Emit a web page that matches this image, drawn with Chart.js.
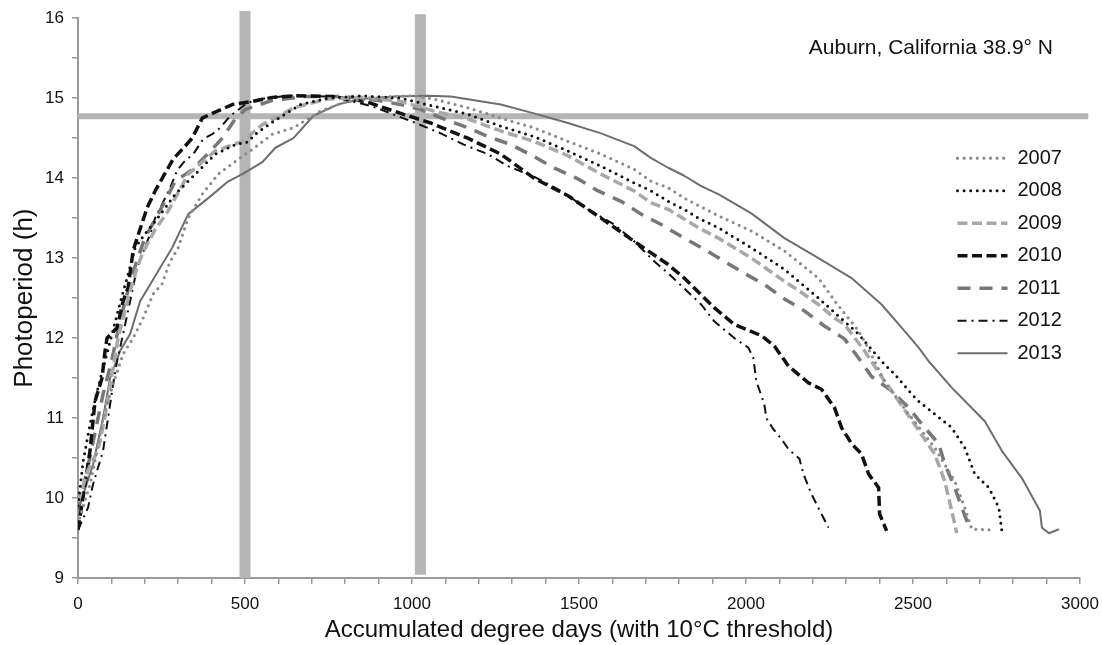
<!DOCTYPE html>
<html>
<head>
<meta charset="utf-8">
<title>Photoperiod vs accumulated degree days</title>
<script src="https://cdn.jsdelivr.net/npm/chart.js@4.4.1/dist/chart.umd.min.js"></script>
<style>
  html, body { margin: 0; padding: 0; background: #fff; }
  #wrap { width: 1102px; height: 645px; }
</style>
</head>
<body>
<div id="wrap"><canvas id="chart" width="1102" height="645"></canvas></div>
<script>
// Photoperiod (h) against accumulated degree days, Auburn CA, 2007-2013
const years = ['2007', '2008', '2009', '2010', '2011', '2012', '2013'];

const dd2007 = [5, 36, 57, 75, 105, 135, 165, 195, 225, 252, 275, 300, 330, 372, 420, 471, 522, 582, 645, 726, 807, 945, 1000, 1065, 1167, 1266, 1365, 1467, 1566, 1665, 1716, 1767, 1815, 1857, 1917, 2016, 2115, 2217, 2270, 2337, 2355, 2415, 2487, 2565, 2625, 2655, 2676, 2745];
const pp2007 = [9.75, 10.17, 10.59, 11.0, 11.42, 11.8, 12.0, 12.25, 12.55, 12.68, 12.95, 13.13, 13.5, 13.8, 14.05, 14.21, 14.36, 14.55, 14.63, 14.84, 14.96, 15.02, 15.03, 14.99, 14.88, 14.75, 14.63, 14.46, 14.3, 14.11, 13.96, 13.88, 13.75, 13.66, 13.53, 13.34, 13.09, 12.75, 12.44, 12.09, 11.96, 11.46, 11.05, 10.63, 10.21, 9.88, 9.61, 9.6];

const dd2008 = [0, 15, 35, 55, 80, 105, 130, 150, 171, 200, 231, 260, 291, 351, 411, 471, 507, 531, 585, 666, 747, 850, 966, 1065, 1167, 1266, 1365, 1467, 1566, 1665, 1716, 1767, 1815, 1857, 1917, 2016, 2115, 2217, 2316, 2337, 2415, 2445, 2496, 2517, 2616, 2655, 2685, 2727, 2757, 2766];
const pp2008 = [9.9, 10.45, 10.9, 11.3, 11.7, 12.1, 12.5, 12.8, 13.13, 13.3, 13.46, 13.62, 13.8, 14.05, 14.3, 14.42, 14.45, 14.55, 14.71, 14.92, 15.0, 15.03, 15.0, 14.9, 14.8, 14.65, 14.52, 14.34, 14.15, 13.94, 13.84, 13.71, 13.61, 13.5, 13.38, 13.13, 12.86, 12.5, 12.13, 12.05, 11.67, 11.55, 11.3, 11.21, 10.88, 10.63, 10.3, 10.13, 9.88, 9.59];

const dd2009 = [0, 30, 60, 80, 100, 120, 150, 175, 192, 230, 270, 330, 411, 492, 552, 591, 645, 747, 850, 966, 1065, 1167, 1266, 1365, 1467, 1566, 1665, 1716, 1767, 1815, 1857, 1917, 2016, 2115, 2166, 2217, 2265, 2295, 2355, 2415, 2436, 2505, 2565, 2595, 2616, 2631];
const pp2009 = [9.95, 10.35, 10.6, 11.0, 11.5, 12.0, 12.5, 12.85, 13.05, 13.35, 13.59, 14.05, 14.34, 14.46, 14.67, 14.75, 14.88, 14.99, 15.01, 14.96, 14.84, 14.74, 14.59, 14.46, 14.28, 14.05, 13.84, 13.69, 13.61, 13.49, 13.38, 13.25, 13.0, 12.71, 12.57, 12.42, 12.25, 12.17, 11.84, 11.46, 11.34, 10.92, 10.55, 10.21, 9.84, 9.56];

const dd2010 = [0, 21, 36, 51, 72, 81, 87, 117, 135, 150, 165, 177, 207, 231, 285, 312, 342, 372, 402, 462, 522, 582, 650, 760, 860, 966, 1056, 1167, 1266, 1365, 1467, 1566, 1665, 1767, 1815, 1905, 1965, 2046, 2085, 2127, 2187, 2226, 2265, 2286, 2316, 2346, 2367, 2397, 2400, 2421];
const pp2010 = [9.6, 10.17, 10.59, 11.21, 11.5, 11.84, 12.0, 12.13, 12.46, 12.63, 13.09, 13.25, 13.63, 13.84, 14.24, 14.36, 14.5, 14.75, 14.81, 14.92, 14.96, 15.01, 15.03, 15.02, 14.96, 14.81, 14.69, 14.5, 14.3, 14.0, 13.78, 13.5, 13.21, 12.92, 12.75, 12.38, 12.17, 12.03, 11.9, 11.65, 11.44, 11.36, 11.13, 10.88, 10.68, 10.55, 10.3, 10.13, 9.8, 9.59];

const dd2011 = [0, 25, 50, 75, 100, 125, 150, 175, 200, 240, 291, 340, 390, 432, 471, 501, 580, 680, 800, 900, 966, 1026, 1095, 1167, 1227, 1296, 1365, 1425, 1497, 1557, 1626, 1686, 1746, 1815, 1875, 1935, 1995, 2055, 2115, 2175, 2235, 2295, 2337, 2376, 2436, 2487, 2535, 2577, 2595, 2625, 2646, 2672];
const pp2011 = [9.85, 10.3, 10.8, 11.3, 11.7, 12.2, 12.6, 12.95, 13.25, 13.55, 13.96, 14.1, 14.31, 14.5, 14.74, 14.86, 14.97, 15.02, 15.02, 14.97, 14.92, 14.86, 14.74, 14.63, 14.52, 14.42, 14.27, 14.13, 13.99, 13.84, 13.71, 13.55, 13.42, 13.25, 13.11, 12.96, 12.81, 12.67, 12.49, 12.34, 12.15, 11.99, 11.75, 11.52, 11.34, 11.13, 10.88, 10.68, 10.43, 10.13, 9.88, 9.6];

const dd2012 = [0, 30, 45, 75, 90, 105, 117, 135, 156, 177, 216, 231, 276, 297, 321, 345, 375, 402, 426, 456, 507, 546, 627, 760, 880, 1005, 1086, 1155, 1227, 1287, 1365, 1446, 1527, 1605, 1665, 1725, 1767, 1866, 1905, 1965, 2007, 2022, 2031, 2055, 2061, 2082, 2106, 2127, 2160, 2172, 2196, 2226, 2247];
const pp2012 = [9.6, 9.88, 10.17, 10.59, 11.0, 11.42, 11.71, 12.05, 12.46, 12.88, 13.3, 13.5, 13.88, 14.1, 14.22, 14.3, 14.49, 14.55, 14.63, 14.78, 14.94, 14.99, 15.03, 15.02, 14.9, 14.7, 14.56, 14.42, 14.3, 14.15, 14.02, 13.84, 13.61, 13.42, 13.21, 12.96, 12.81, 12.42, 12.21, 12.0, 11.88, 11.75, 11.46, 11.17, 11.0, 10.86, 10.74, 10.61, 10.49, 10.3, 10.05, 9.8, 9.63];

const dd2013 = [0, 6, 45, 75, 96, 126, 156, 186, 216, 246, 282, 330, 390, 450, 492, 552, 591, 645, 705, 777, 846, 945, 1047, 1116, 1266, 1365, 1467, 1566, 1665, 1716, 1767, 1815, 1866, 1917, 2016, 2115, 2217, 2316, 2406, 2466, 2517, 2547, 2616, 2715, 2766, 2826, 2880, 2886, 2907, 2937];
const pp2013 = [9.85, 9.92, 10.42, 11.0, 11.5, 11.84, 12.05, 12.46, 12.67, 12.88, 13.13, 13.55, 13.75, 13.96, 14.05, 14.2, 14.38, 14.5, 14.78, 14.92, 14.99, 15.02, 15.03, 15.02, 14.92, 14.81, 14.69, 14.56, 14.4, 14.25, 14.13, 14.03, 13.9, 13.8, 13.56, 13.25, 13.0, 12.75, 12.42, 12.13, 11.88, 11.71, 11.38, 10.96, 10.59, 10.25, 9.84, 9.63, 9.56, 9.61];

// reference bands: critical photoperiod and degree-day marks
const refPhotoperiod = 14.775;
const refPhotoperiodSpan = [0, 3025];
const refDegreeDays = [500, 1025];
const refDegreeDaySpan = [[9, 16.09], [9.04, 16.05]];

const xTicks = { min: 0, max: 3000, step: 100, labelEvery: 500 };
const yTicks = { min: 9, max: 16, step: 0.5 };
const locationLabel = 'Auburn, California 38.9\u00B0 N';

const seriesX = [dd2007, dd2008, dd2009, dd2010, dd2011, dd2012, dd2013];
const seriesY = [pp2007, pp2008, pp2009, pp2010, pp2011, pp2012, pp2013];

const styles = [
  { color: '#8c8c8c', width: 3.2, dash: [0, 6.6], cap: 'round' },
  { color: '#111111', width: 3.0, dash: [0, 6.6], cap: 'round' },
  { color: '#a8a8a8', width: 3.5, dash: [10, 4.5], cap: 'butt' },
  { color: '#111111', width: 3.5, dash: [10, 4.5], cap: 'butt' },
  { color: '#777777', width: 3.5, dash: [13, 9], cap: 'butt' },
  { color: '#111111', width: 2.0, dash: [9, 5, 2, 5], cap: 'butt' },
  { color: '#6e6e6e', width: 2.0, dash: [], cap: 'butt' }
];

const BAND = '#b5b5b5';
const AXIS = '#9a9a9a';
const TEXT = '#111111';
const FONT = '"Liberation Sans", Arial, Helvetica, sans-serif';

const toPoints = (xs, ys) => xs.map((x, i) => ({ x, y: ys[i] }));

const yearSets = years.map((yr, i) => ({
  label: yr,
  data: toPoints(seriesX[i], seriesY[i]),
  showLine: true,
  borderColor: styles[i].color,
  backgroundColor: styles[i].color,
  borderWidth: styles[i].width,
  borderDash: styles[i].dash,
  borderCapStyle: styles[i].cap,
  borderJoinStyle: 'round',
  pointRadius: 0,
  tension: 0
}));

const bandSets = [
  {
    label: '',
    data: refPhotoperiodSpan.map(x => ({ x, y: refPhotoperiod })),
    showLine: true, borderColor: BAND, borderWidth: 6, pointRadius: 0, clip: false
  },
  ...refDegreeDays.map((d, i) => ({
    label: '',
    data: refDegreeDaySpan[i].map(y => ({ x: d, y })),
    showLine: true, borderColor: BAND, borderWidth: 11, pointRadius: 0, clip: false
  }))
];

const placeInside = {
  id: 'placeInside',
  afterLayout(chart) {
    const area = chart.chartArea;
    chart.legend.left = area.right - 135;
    chart.legend.top = area.top + 117.5;
  },
  afterDraw(chart) {
    const { ctx, chartArea } = chart;
    ctx.save();
    ctx.font = '21px ' + FONT;
    ctx.fillStyle = TEXT;
    ctx.textAlign = 'right';
    ctx.textBaseline = 'alphabetic';
    ctx.fillText(locationLabel, chartArea.right - 27, chartArea.top + 36);
    ctx.restore();
  }
};

Chart.defaults.font.family = FONT;
Chart.defaults.color = TEXT;

new Chart(document.getElementById('chart'), {
  type: 'scatter',
  data: { datasets: [...yearSets, ...bandSets] },
  options: {
    responsive: false,
    animation: false,
    events: [],
    layout: { padding: { top: 17, right: 22, bottom: 0, left: 0 } },
    plugins: {
      tooltip: { enabled: false },
      legend: {
        position: 'chartArea',
        align: 'start',
        labels: {
          usePointStyle: true,
          pointStyleWidth: 50,
          padding: 12.5,
          color: TEXT,
          font: { size: 20 },
          generateLabels: (chart) => chart.data.datasets.slice(0, years.length).map((ds, i) => ({
            text: ds.label,
            strokeStyle: ds.borderColor,
            fillStyle: ds.borderColor,
            lineWidth: ds.borderWidth,
            lineDash: ds.borderDash,
            lineCap: ds.borderCapStyle,
            pointStyle: 'line',
            fontColor: TEXT,
            hidden: false,
            datasetIndex: i
          }))
        }
      }
    },
    scales: {
      x: {
        type: 'linear',
        min: xTicks.min,
        max: xTicks.max,
        afterFit: (scale) => { scale.height = 67; scale.paddingRight = 0; scale.paddingLeft = 0; },
        border: { color: AXIS, width: 2 },
        grid: { drawOnChartArea: false, drawTicks: true, tickLength: 6, color: AXIS, lineWidth: 1.5 },
        ticks: {
          stepSize: xTicks.step,
          autoSkip: false,
          maxRotation: 0,
          padding: 10,
          color: TEXT,
          font: { size: 17 },
          callback: (v) => (v % xTicks.labelEvery === 0 ? v : '')
        },
        title: {
          display: true,
          text: 'Accumulated degree days (with 10\u00B0C threshold)',
          color: TEXT,
          font: { size: 24 },
          padding: { top: 0, bottom: 0 }
        }
      },
      y: {
        type: 'linear',
        min: yTicks.min,
        max: yTicks.max,
        afterFit: (scale) => { scale.width = 78; },
        border: { color: AXIS, width: 2 },
        grid: { drawOnChartArea: false, drawTicks: true, tickLength: 6, color: AXIS, lineWidth: 1.5 },
        ticks: {
          stepSize: yTicks.step,
          autoSkip: false,
          padding: 8,
          color: TEXT,
          font: { size: 17 },
          callback: (v) => (Number.isInteger(v) ? v : '')
        },
        title: {
          display: true,
          text: 'Photoperiod (h)',
          color: TEXT,
          font: { size: 26 },
          padding: { top: 9, bottom: 0 }
        }
      }
    }
  },
  plugins: [placeInside]
});
</script>
</body>
</html>
